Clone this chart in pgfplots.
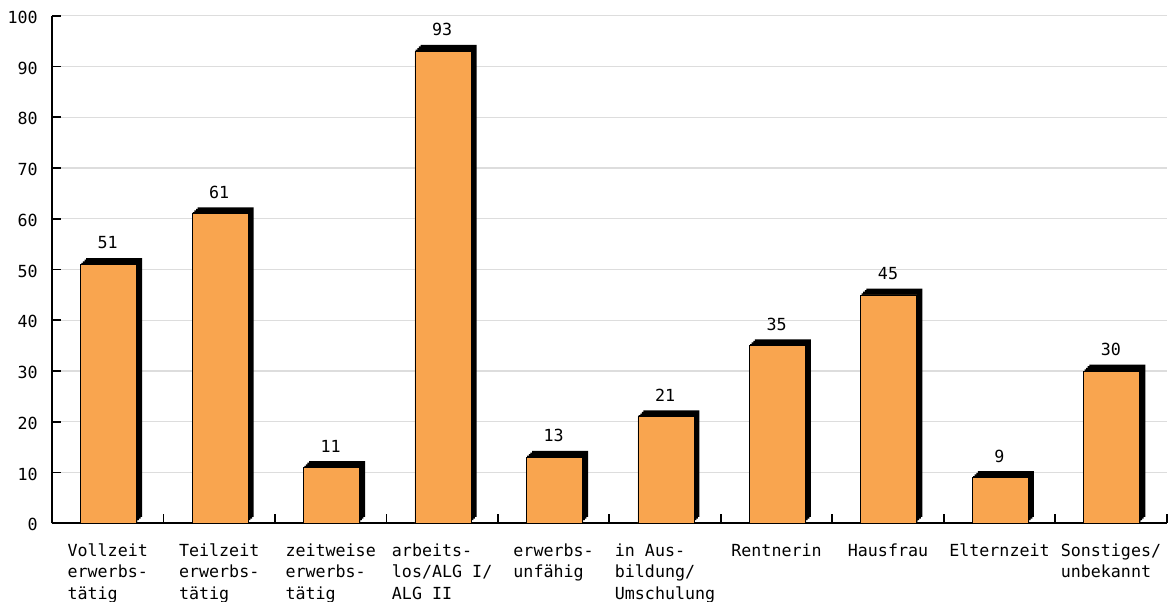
\documentclass[border=0pt]{standalone}
\usepackage{pgfplots}
\pgfplotsset{compat=1.18}
\usepackage{pgfplotstable}
\usepackage{fontspec}
\setmainfont{DejaVu Sans Mono}
\definecolor{barorange}{RGB}{249,165,79}
\definecolor{gridgray}{RGB}{221,221,221}
\pgfplotstableread{
x v
0 51
1 61
2 11
3 93
4 13
5 21
6 35
7 45
8 9
9 30
}\datatable
\begin{document}
\fontsize{12.5}{16.1}\selectfont
\begin{tikzpicture}
\begin{axis}[
 scale only axis, width=836pt, height=380.7pt,
 xmin=-0.5, xmax=9.5, ymin=0, ymax=100,
 axis lines*=left,
 axis line style={line width=1.3pt},
 ytick={0,10,...,100},
 xtick={-0.5,0.5,...,9.5},
 xticklabels={},
 extra x ticks={0,...,9},
 extra x tick labels={{Vollzeit\\erwerbs-\\tätig},{Teilzeit\\erwerbs-\\tätig},{zeitweise\\erwerbs-\\tätig},{arbeits-\\los/ALG I/\\ALG II},{erwerbs-\\unfähig},{in Aus-\\bildung/\\Umschulung},{Rentnerin},{Hausfrau},{Elternzeit},{Sonstiges/\\unbekannt}},
 extra x tick style={major tick length=0pt, tick style={draw=none},
   xticklabel style={align=left, anchor=north, inner sep=0pt, yshift=-15pt}},
 tick align=inside,
 major tick length=6.75pt,
 tick style={black, line width=1.3pt},
 ymajorgrids, grid style={gridgray, line width=1pt},
 /pgf/number format/assume math mode=true,
 yticklabel style={inner sep=0pt, xshift=-10.5pt, yshift=-1.2pt},
 clip=false,
]
\addplot[ybar, bar width=42pt, bar shift=1.2pt, yshift=1.2pt, fill=black, draw=none] table[x=x,y=v]{\datatable};
\addplot[ybar, bar width=42pt, bar shift=2.4pt, yshift=2.4pt, fill=black, draw=none] table[x=x,y=v]{\datatable};
\addplot[ybar, bar width=42pt, bar shift=3.6pt, yshift=3.6pt, fill=black, draw=none] table[x=x,y=v]{\datatable};
\addplot[ybar, bar width=42pt, bar shift=4.8pt, yshift=4.8pt, fill=black, draw=none] table[x=x,y=v]{\datatable};
\addplot[ybar, bar width=42pt, bar shift=0.6pt, fill=barorange, draw=black, line width=0.5pt,
  nodes near coords,
  every node near coord/.append style={anchor=south, inner sep=0pt, yshift=11.25pt, black}]
  table[x=x,y=v]{\datatable};
\end{axis}
\pgfresetboundingbox
\useasboundingbox (-39pt,-59pt) rectangle (840pt,392.5pt);
\end{tikzpicture}
\end{document}
